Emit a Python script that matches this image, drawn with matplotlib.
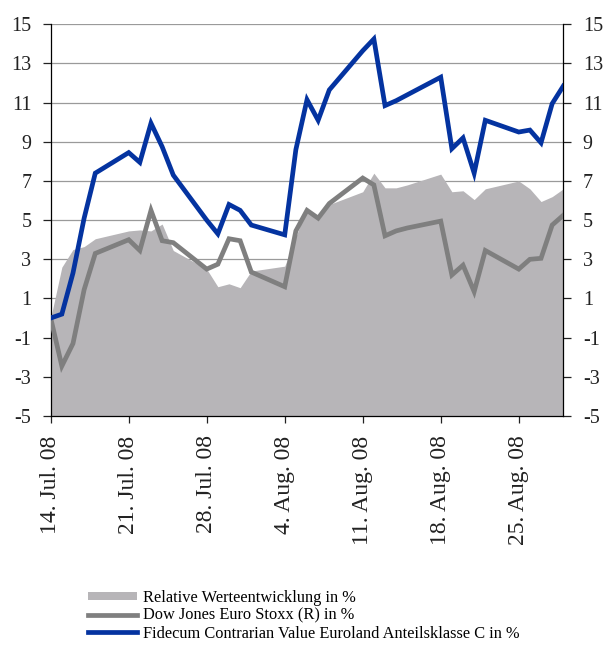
import matplotlib
matplotlib.use("Agg")
import matplotlib.pyplot as plt
from matplotlib.patches import Patch
from matplotlib.lines import Line2D
import numpy as np
import pandas as pd

plt.rcParams['font.family'] = ['Liberation Serif', 'DejaVu Serif']

# ---- data ----
dates = pd.to_datetime([
    "2008-07-14", "2008-07-15", "2008-07-16", "2008-07-17", "2008-07-18",
    "2008-07-21", "2008-07-22", "2008-07-23", "2008-07-24", "2008-07-25",
    "2008-07-28", "2008-07-29", "2008-07-30", "2008-07-31", "2008-08-01",
    "2008-08-04", "2008-08-05", "2008-08-06", "2008-08-07", "2008-08-08",
    "2008-08-11", "2008-08-12", "2008-08-13", "2008-08-14", "2008-08-15",
    "2008-08-18", "2008-08-19", "2008-08-20", "2008-08-21", "2008-08-22",
    "2008-08-25", "2008-08-26", "2008-08-27", "2008-08-28", "2008-08-29",
])
relative = [
    0.0, 2.6, 3.5, 3.65, 4.05,
    4.45, 4.5, 4.45, 4.8, 3.45,
    2.5, 1.6, 1.75, 1.55, 2.4,
    2.65, 4.15, 5.65, 5.0, 5.8,
    6.45, 7.4, 6.65, 6.65, 6.8,
    7.35, 6.45, 6.5, 6.05, 6.6,
    7.0, 6.6, 5.95, 6.2, 6.6,
]
dow_jones = [
    0.0, -2.45, -1.3, 1.45, 3.3,
    4.0, 3.45, 5.5, 3.95, 3.85,
    2.5, 2.75, 4.05, 3.95, 2.35,
    1.6, 4.45, 5.5, 5.1, 5.85,
    7.15, 6.8, 4.2, 4.45, 4.6,
    4.95, 2.2, 2.7, 1.35, 3.45,
    2.5, 3.0, 3.05, 4.75, 5.25,
]
fidecum = [
    0.0, 0.2, 2.3, 5.1, 7.4,
    8.45, 7.95, 9.95, 8.75, 7.3,
    5.0, 4.3, 5.8, 5.5, 4.75,
    4.25, 8.6, 11.15, 10.1, 11.65,
    13.65, 14.25, 10.85, 11.1, 11.4,
    12.3, 8.65, 9.2, 7.4, 10.1,
    9.5, 9.6, 8.95, 10.95, 11.85,
]
tick_dates = pd.to_datetime(["2008-07-14", "2008-07-21", "2008-07-28", "2008-08-04",
                             "2008-08-11", "2008-08-18", "2008-08-25"])
tick_labels = ["14. Jul. 08", "21. Jul. 08", "28. Jul. 08", "4. Aug. 08",
               "11. Aug. 08", "18. Aug. 08", "25. Aug. 08"]
y_ticks = [-5, -3, -1, 1, 3, 5, 7, 9, 11, 13, 15]
legend_labels = ["Relative Werteentwicklung in %",
                 "Dow Jones Euro Stoxx (R) in %",
                 "Fidecum Contrarian Value Euroland Anteilsklasse C in %"]

# ---- style ----
c_area = '#b7b5b8'
c_gray = '#7f7f7f'
c_blue = '#0433a0'

fig = plt.figure(figsize=(6.05, 6.61), dpi=100)
ax = fig.add_axes([0.0838, 0.3707, 0.9311 - 0.0838, 0.9632 - 0.3707])

ax.fill_between(dates, relative, -5, color=c_area, linewidth=0, zorder=2)
ax.plot(dates, dow_jones, color=c_gray, lw=3.4, solid_joinstyle='miter', zorder=3)
ax.plot(dates, fidecum, color=c_blue, lw=3.4, solid_joinstyle='miter', zorder=4)

ax.set_ylim(-5, 15)
ax.set_xlim(pd.Timestamp("2008-07-14"), pd.Timestamp("2008-08-29"))
ax.set_yticks(y_ticks)
ax.set_yticklabels([str(v) for v in y_ticks])
for v in y_ticks[1:]:
    ax.axhline(v, color='#9a9a9a', lw=0.9, zorder=1)

ax.set_xticks(tick_dates)
ax.set_xticklabels(tick_labels, rotation=90, va='top', ha='center')

ax.spines['top'].set_visible(False)
for s in ['left', 'right', 'bottom']:
    ax.spines[s].set_color('black')
    ax.spines[s].set_linewidth(0.9)

ax.tick_params(axis='y', which='both', direction='out', length=6, width=0.9,
               labelsize=14.5, pad=8, left=True, right=True,
               labelleft=True, labelright=True, colors='#222222')
ax.tick_params(axis='x', direction='out', length=5, width=0.9,
               labelsize=17, pad=9, colors='#222222')
ax.set_facecolor('white')

handles = [Patch(facecolor=c_area, edgecolor='none'),
           Line2D([0], [0], color=c_gray, lw=3.4),
           Line2D([0], [0], color=c_blue, lw=3.4)]
fig.legend(handles, legend_labels, loc='upper left',
           bbox_to_anchor=(0.145, 0.108), frameon=False, fontsize=11.8,
           handlelength=3.0, handleheight=0.42, handletextpad=0.35,
           labelspacing=0.12, borderpad=0, borderaxespad=0)

fig.savefig("out.png", dpi=100, facecolor='white')
